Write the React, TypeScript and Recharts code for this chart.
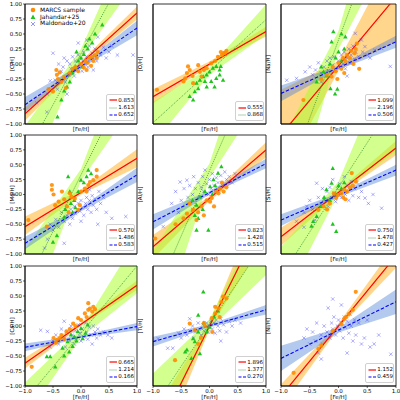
import React from 'react';
import { ComposedChart, XAxis, YAxis, Line, Area, Scatter, ReferenceArea } from 'recharts';

// band rows: [Fe/H], red lo, red hi, green lo, green hi, blue lo, blue hi
// line ends: y at [Fe/H] = -1 and +1 for red, green, blue
const C_BANDS = [
  [-1, -0.94, -0.72, -2.03, -1.03, -0.8, -0.55],
  [0, -0.02, 0.05, 0.09, 0.25, -0.07, -0.01],
  [1, 0.74, 0.96, 1.39, 2.35, 0.48, 0.72],
];
const C_LINES = [[-0.83, 0.85], [-1.53, 1.87], [-0.68, 0.6]];
const C_SLOPES = ['0.853', '1.613', '0.652'];
const C_MARCS = [[-0.58,-0.42],[-0.5,-0.46],[-0.44,-0.1],[-0.43,-0.18],[-0.41,-0.25],[-0.38,-0.14],[-0.35,-0.3],[-0.3,-0.22],[-0.27,-0.4],[-0.2,-0.15],[-0.15,-0.08],[-0.1,-0.05],[-0.05,-0.12],[0,0],[0.05,-0.06],[0.08,0.05],[0.12,0.02],[0.15,0.1],[0.18,-0.03],[0.2,0.12],[0.22,0.05],[0.25,0.15],[0.28,0.1],[0.3,0.2],[0.1,-0.1]];
const C_JAH = [[-0.42,-0.88],[-0.35,-0.6],[-0.3,-0.45],[-0.25,-0.38],[-0.2,-0.3],[-0.15,-0.15],[-0.1,-0.05],[-0.05,0.05],[0,0.1],[0.05,0.16],[0.08,0.3],[0.12,0.25],[0.15,0.42],[0.2,0.35],[0.25,0.5],[0.38,0.65],[-0.08,0.2],[0.02,-0.05]];
const C_MAL = [[-0.79,-0.65],[-0.61,-0.8],[-0.55,-0.28],[-0.5,0.18],[-0.46,-0.27],[-0.42,-0.42],[-0.4,0],[-0.35,-0.12],[-0.32,-0.05],[-0.3,0.1],[-0.28,-0.3],[-0.25,0.05],[-0.22,-0.18],[-0.2,0],[-0.18,-0.08],[-0.15,0.12],[-0.12,-0.2],[-0.1,0.05],[-0.08,-0.1],[-0.05,0.15],[-0.02,-0.02],[0,0.08],[0.02,-0.12],[0.05,0.2],[0.08,0],[0.1,0.12],[0.12,-0.05],[0.15,0.3],[0.18,0.08],[0.2,0.18],[0.22,-0.1],[0.25,0.25],[0.28,0.05],[0.3,0.45],[0.35,0.15],[0.4,0.28],[0.45,0.1],[0.5,0.2],[0.55,0.3],[0.65,0.15],[0.93,0.15],[-0.05,0.35],[0.1,0.4],[-0.25,-0.5],[-0.6,-0.5]];

const O_BANDS = [
  [-1, -0.66, -0.42, -1.33, -0.63],
  [0, -0.03, 0.04, -0.18, -0.06],
  [1, 0.46, 0.62, 0.49, 0.99],
];
const O_LINES = [[-0.545, 0.54], [-0.98, 0.74]];
const O_SLOPES = ['0.555', '0.868'];
const O_MARCS = [[-0.93,-0.43],[-0.46,-0.29],[-0.43,-0.24],[-0.4,-0.15],[-0.38,-0.04],[-0.35,-0.1],[-0.3,-0.2],[-0.29,-0.32],[-0.2,-0.02],[-0.17,-0.13],[-0.14,-0.21],[-0.1,-0.1],[-0.05,-0.07],[0.03,0.01],[0.1,0.05],[0.15,0.12],[0.2,0.2],[0.22,0.15],[0.25,0.18],[0.28,0.19],[0.3,0.22]];
const O_JAH = [[-0.35,-0.54],[-0.29,-0.6],[-0.26,-0.46],[-0.23,-0.32],[-0.2,-0.41],[-0.17,-0.27],[-0.11,-0.21],[-0.08,-0.29],[-0.05,-0.18],[-0.05,-0.38],[0,-0.13],[0.03,-0.29],[0.06,-0.07],[0.09,-0.38],[0.12,-0.04],[0.12,-0.24],[0.18,-0.1],[0.18,-0.18],[0.2,-0.04],[0.24,-0.27]];

const NA_BANDS = [
  [-1, -1.93, -0.43, -3.1, -1.3, -0.62, -0.36],
  [0, -0.11, 0.05, 0.25, 0.55, -0.09, -0.03],
  [1, 0.37, 1.87, 2.1, 3.9, 0.27, 0.47],
];
const NA_LINES = [[-1.18, 1.12], [-2.2, 3.0], [-0.49, 0.37]];
const NA_SLOPES = ['1.099', '2.196', '0.506'];
const NA_MARCS = [[-0.61,-0.6],[-0.3,-0.25],[-0.2,-0.18],[-0.12,-0.21],[-0.1,-0.05],[-0.05,-0.12],[0,0.02],[0.05,-0.08],[0.08,0.1],[0.12,0.05],[0.15,0.15],[0.2,0.1],[0.22,0.22],[0.26,0],[0.28,0.18],[0.32,0.34],[0.3,0.25],[0.36,-0.08],[-0.02,-0.25],[0.1,-0.15]];
const NA_JAH = [[-0.09,0.54],[-0.12,0.37],[0.05,0.5],[0.12,0.45],[-0.26,-0.13],[-0.38,-0.3],[-0.14,-0.41],[-0.06,-0.5],[-0.2,-0.2],[-0.05,0.1],[0,0.2],[0.05,0.05],[-0.15,0],[-0.3,-0.05],[-0.02,-0.42],[0.1,0.25]];
const NA_MAL = [[-0.9,-0.27],[-0.73,-0.24],[-0.58,-0.13],[-0.5,-0.05],[-0.45,-0.18],[-0.4,-0.1],[-0.35,0.02],[-0.3,-0.15],[-0.25,-0.05],[-0.2,0.05],[-0.18,-0.12],[-0.15,0.1],[-0.1,-0.02],[-0.08,0.12],[-0.05,-0.1],[0,0.05],[0.02,-0.05],[0.05,0.15],[0.08,0],[0.1,0.2],[0.12,-0.08],[0.15,0.1],[0.18,0.25],[0.2,0.02],[0.22,0.15],[0.25,0.3],[0.28,0.08],[0.29,0.51],[0.3,0.2],[0.35,0.12],[0.4,0.4],[0.42,0.2],[0.46,0.29],[0.5,0.15],[0.55,0.1],[0.63,0.23],[0.75,0.26],[0.9,-0.04],[-0.3,-0.3],[0.15,-0.2]];

const MG_BANDS = [
  [-1, -0.68, -0.37, -2.22, -0.92, -0.92, -0.71],
  [0, 0.0, 0.08, 0.23, 0.43, -0.28, -0.22],
  [1, 0.46, 0.76, 1.58, 2.88, 0.21, 0.45],
];
const MG_LINES = [[-0.54, 0.61], [-1.57, 2.23], [-0.82, 0.33]];
const MG_SLOPES = ['0.570', '1.486', '0.583'];
const MG_MARCS = [[-0.94,-0.43],[-0.61,-0.54],[-0.52,0.16],[-0.52,0.08],[-0.49,0],[-0.46,-0.18],[-0.4,-0.12],[-0.34,0.05],[-0.3,-0.08],[-0.25,-0.2],[-0.22,-0.3],[-0.2,0.02],[-0.17,-0.04],[-0.11,-0.07],[-0.05,-0.26],[-0.02,-0.18],[0,0.05],[0.07,0.1],[0.13,0.16],[0.16,0.21],[0.22,0.24],[0.28,0.3],[0.28,0.41],[0.1,0.05]];
const MG_JAH = [[-0.23,0.3],[0,0.24],[0.13,0.41],[0.18,0.35],[-0.2,0.05],[-0.12,-0.1],[-0.1,-0.22],[-0.18,-0.15],[-0.28,-0.25],[-0.43,-0.69],[-0.5,-0.8],[0.05,0.2],[-0.05,0.05],[-0.3,-0.38],[0.1,0.3],[-0.15,-0.3]];
const MG_MAL = [[-0.6,-0.75],[-0.55,-0.5],[-0.5,-0.6],[-0.45,-0.42],[-0.4,-0.55],[-0.35,-0.3],[-0.3,-0.82],[-0.3,-0.45],[-0.25,-0.35],[-0.2,-0.5],[-0.18,-0.25],[-0.15,-0.4],[-0.12,-0.2],[-0.1,-0.32],[-0.05,-0.15],[-0.02,-0.28],[0,-0.1],[0.02,-0.22],[0.05,-0.35],[0.08,-0.15],[0.1,-0.05],[0.12,-0.25],[0.15,-0.1],[0.18,-0.3],[0.2,-0.02],[0.22,-0.18],[0.25,-0.08],[0.28,-0.25],[0.3,-0.5],[0.32,0.05],[0.35,-0.15],[0.4,-0.05],[0.45,-0.3],[0.55,-0.4],[0.8,-0.37],[-0.65,-0.9],[0,-0.45],[0.15,0.08]];

const AL_BANDS = [
  [-1, -1.08, -0.68, -2.64, -0.94, -0.59, -0.33],
  [0, -0.1, -0.03, 0.28, 0.52, 0.0, 0.06],
  [1, 0.62, 0.88, 1.74, 3.44, 0.44, 0.6],
];
const AL_LINES = [[-0.88, 0.75], [-1.79, 2.59], [-0.46, 0.52]];
const AL_SLOPES = ['0.823', '1.428', '0.515'];
const AL_MARCS = [[-0.96,-0.74],[-0.46,-0.4],[-0.4,-0.32],[-0.35,-0.15],[-0.29,-0.26],[-0.23,-0.43],[-0.2,-0.3],[-0.14,-0.2],[-0.1,-0.35],[-0.05,-0.1],[0.01,-0.12],[0.04,-0.06],[0.08,-0.2],[0.12,0.05],[0.16,0.02],[0.19,0.1],[0.22,0.2],[0.25,0.05],[0.3,0.12],[-0.6,-0.5]];
const AL_JAH = [[0.21,0.47],[0.15,0.36],[0.07,0.25],[0.01,0.13],[-0.08,0.05],[-0.17,-0.04],[-0.23,-0.18],[-0.26,-0.35],[-0.2,-0.4],[-0.23,-0.6],[-0.02,-0.6],[-0.12,-0.25],[0.05,0],[-0.3,-0.1],[0.1,0.15]];
const AL_MAL = [[-0.82,-0.54],[-0.67,-0.15],[-0.6,0.05],[-0.52,0.21],[-0.5,-0.1],[-0.45,0.1],[-0.4,0.24],[-0.38,-0.05],[-0.35,0.15],[-0.3,0],[-0.28,0.3],[-0.25,0.1],[-0.2,0.2],[-0.18,-0.05],[-0.15,0.12],[-0.12,0.3],[-0.1,0.05],[-0.08,0.41],[-0.05,0.18],[-0.02,0],[0,0.25],[0.03,0.1],[0.05,0.35],[0.08,0.15],[0.1,0.05],[0.12,0.28],[0.15,0.2],[0.18,0.1],[0.2,0.32],[0.23,0.15],[0.27,0.38],[0.3,0.25],[0.35,0.3],[0.4,0.2],[0.45,0.35],[0.5,0.28],[-0.3,-0.25],[-0.55,-0.3]];

const SI_BANDS = [
  [-1, -0.86, -0.56, -1.88, -0.88, -0.53, -0.33],
  [0, 0.0, 0.07, 0.02, 0.22, -0.04, 0.02],
  [1, 0.66, 0.9, 0.72, 2.52, 0.32, 0.5],
];
const SI_LINES = [[-0.71, 0.78], [-1.38, 1.62], [-0.43, 0.41]];
const SI_SLOPES = ['0.750', '1.478', '0.427'];
const SI_MARCS = [[-0.35,-0.26],[-0.26,-0.2],[-0.15,-0.15],[-0.04,-0.06],[-0.01,-0.01],[0.05,0.02],[0.08,-0.05],[0.1,0.08],[0.15,0.05],[0.2,0.12],[0.23,0.36],[0.25,0.15],[0.12,-0.08],[-0.2,-0.25],[-0.08,0.02],[0.3,0.22]];
const SI_JAH = [[-0.1,0.44],[-0.12,0.19],[-0.21,0.08],[-0.3,-0.2],[-0.38,-0.37],[-0.44,-0.45],[-0.47,-0.53],[-0.1,-0.5],[-0.04,-0.62],[0.05,0.1],[-0.05,0],[0,0.15],[-0.25,-0.05],[0.1,0.2],[-0.15,-0.1]];
const SI_MAL = [[-0.73,-0.45],[-0.6,-0.3],[-0.55,-0.2],[-0.5,-0.1],[-0.45,-0.25],[-0.41,-0.43],[-0.38,0.19],[-0.35,-0.05],[-0.3,-0.15],[-0.28,0.1],[-0.25,-0.08],[-0.2,0.05],[-0.18,-0.2],[-0.15,0.12],[-0.12,-0.05],[-0.1,0.25],[-0.08,0.02],[-0.05,-0.12],[-0.02,0.1],[0,0],[0.02,0.18],[0.05,-0.05],[0.08,0.08],[0.1,0.3],[0.12,0],[0.15,0.15],[0.18,-0.1],[0.2,0.08],[0.22,0.22],[0.25,-0.02],[0.28,0.1],[0.32,0.2],[0.35,-0.05],[0.4,0.05],[0.46,-0.06],[0.52,-0.15],[0.6,0],[0.75,-0.23],[-0.6,-0.55]];

const CA_BANDS = [
  [-1, -0.71, -0.53, -1.54, -0.94, -0.42, -0.29],
  [0, 0.0, 0.06, -0.19, -0.05, -0.2, -0.16],
  [1, 0.6, 0.76, 0.55, 1.45, -0.07, 0.05],
];
const CA_LINES = [[-0.62, 0.68], [-1.24, 1.0], [-0.355, -0.01]];
const CA_SLOPES = ['0.665', '1.214', '0.166'];
const CA_MARCS = [[-0.88,-0.68],[-0.49,-0.2],[-0.45,-0.28],[-0.43,-0.23],[-0.38,-0.2],[-0.35,-0.15],[-0.3,-0.22],[-0.26,-0.09],[-0.2,-0.05],[-0.14,0.04],[-0.1,0],[-0.05,0.13],[0,0.1],[0.07,0.21],[0.1,0.15],[0.13,0.27],[0.16,0.29],[0.13,0.38],[0.2,0.24],[0.22,0.32],[0.25,0.28]];
const CA_JAH = [[-0.61,-0.51],[-0.55,-0.51],[-0.46,-0.68],[-0.33,-0.37],[-0.24,-0.26],[-0.15,-0.34],[-0.21,-0.43],[-0.12,-0.18],[-0.06,-0.09],[0,-0.04],[0.03,-0.21],[0.12,0.02],[-0.3,-0.5],[-0.08,-0.25],[0.08,-0.12],[-0.18,-0.15]];
const CA_MAL = [[-0.72,-0.07],[-0.6,-0.09],[-0.5,-0.25],[-0.45,-0.15],[-0.4,-0.3],[-0.35,-0.05],[-0.3,-0.2],[-0.28,-0.35],[-0.25,-0.1],[-0.2,-0.25],[-0.18,0],[-0.15,-0.15],[-0.12,-0.3],[-0.1,-0.08],[-0.08,-0.2],[-0.05,0.02],[-0.02,-0.12],[0,-0.25],[0.02,-0.05],[0.05,-0.18],[0.08,0.05],[0.1,-0.1],[0.12,-0.22],[0.15,-0.02],[0.18,-0.15],[0.2,-0.3],[0.22,0],[0.25,-0.1],[0.28,-0.2],[0.3,-0.05],[0.35,-0.15],[0.4,-0.1],[0.48,-0.15],[0.55,-0.2],[-0.3,0.08],[-0.55,-0.35]];

const TI_BANDS = [
  [-1, -2.32, -1.48, -1.95, -0.79, -0.34, -0.18],
  [0, -0.06, 0.06, -0.05, 0.11, -0.02, 0.03],
  [1, 1.48, 2.32, 0.85, 2.01, 0.19, 0.35],
];
const TI_LINES = [[-1.9, 1.9], [-1.37, 1.43], [-0.26, 0.27]];
const TI_SLOPES = ['1.896', '1.377', '0.270'];
const TI_MARCS = [[-0.61,-0.57],[-0.35,0.04],[-0.26,-0.07],[-0.2,-0.3],[-0.08,0],[0.04,0.13],[0.1,0.21],[0.1,0.32],[0.16,0.29],[0.21,0.4],[0.24,0.49],[0.3,0.46],[0.05,-0.1],[-0.15,-0.2],[0.18,0.15],[-0.1,0.05]];
const TI_JAH = [[-0.11,0.57],[-0.2,0.18],[0,-0.02],[-0.29,-0.21],[-0.26,-0.26],[-0.4,-0.4],[-0.43,-0.43],[-0.17,-0.46],[-0.32,-0.54],[0.08,0.15],[0.15,0.25],[-0.1,0.05],[-0.05,-0.1],[-0.2,-0.1]];
const TI_MAL = [[-0.91,-0.21],[-0.74,-0.37],[-0.65,-0.37],[-0.55,-0.12],[-0.5,-0.2],[-0.45,-0.05],[-0.4,-0.15],[-0.35,-0.08],[-0.3,0],[-0.28,-0.2],[-0.25,-0.1],[-0.2,0.05],[-0.18,-0.05],[-0.15,-0.15],[-0.12,0.02],[-0.1,-0.08],[-0.05,0.05],[-0.02,-0.1],[0,0],[0.02,0.08],[0.05,-0.05],[0.08,0.05],[0.1,-0.12],[0.12,0.1],[0.15,0],[0.18,-0.08],[0.2,0.12],[0.25,0.02],[0.3,-0.1],[0.35,0.08],[0.4,0],[0.45,0.1],[0.55,0.05],[0.2,-0.25],[-0.35,0.12]];

// Ni has no Jahandar+25 fit: red lo, red hi, -, -, blue lo, blue hi
const NI_BANDS = [
  [-1, -1.37, -0.97, null, null, -0.75, -0.33],
  [0, -0.04, 0.04, null, null, -0.11, -0.03],
  [1, 0.97, 1.37, null, null, 0.2, 0.61],
];
const NI_LINES = [[-1.17, 1.17], null, [-0.54, 0.405]];
const NI_SLOPES = ['1.152', '0.459'];
const NI_MARCS = [[-0.78,-0.78],[-0.35,-0.38],[-0.3,-0.33],[-0.1,-0.08],[0.05,0.03],[0.1,0.12],[0.13,0.15],[0.18,0.2],[0.25,0.27],[0.3,0.57]];
const NI_MAL = [[-0.6,-0.2],[-0.55,-0.05],[-0.5,-0.3],[-0.45,-0.1],[-0.4,-0.25],[-0.38,0.05],[-0.35,-0.45],[-0.3,-0.15],[-0.28,-0.3],[-0.25,0],[-0.2,-0.1],[-0.18,0.3],[-0.15,-0.2],[-0.12,0.05],[-0.1,-0.05],[-0.08,0.15],[-0.05,-0.15],[-0.02,0],[0,0.1],[0.02,-0.08],[0.05,0.05],[0.08,-0.2],[0.1,0.15],[0.12,-0.02],[0.15,0.08],[0.18,-0.12],[0.2,0.2],[0.22,0],[0.25,-0.25],[0.28,0.1],[0.3,-0.15],[0.35,0.05],[0.4,-0.3],[0.45,-0.2],[0.5,0.1],[0.55,-0.35],[0.62,-0.3],[0.7,-0.15],[0.91,-0.47],[-0.1,0.45],[0.05,0.35],[-0.3,-0.55],[0.15,-0.45]];

const Y_TICKS = [-1, -0.75, -0.5, -0.25, 0, 0.25, 0.5, 0.75, 1];
const X_TICKS = [-1, -0.5, 0, 0.5, 1];
const COL_X = [25, 153, 281];
const COL_W = [112, 113, 115];
const ROW_Y = [4, 135, 266];
const ROW_H = [120, 119, 120];
const YLAB_X = [7, 147, 277];

const PANELS = [
  { label: '[C/H]', bands: C_BANDS, lines: C_LINES, slopes: C_SLOPES, marcs: C_MARCS, jah: C_JAH, mal: C_MAL },
  { label: '[O/H]', bands: O_BANDS, lines: O_LINES, slopes: O_SLOPES, marcs: O_MARCS, jah: O_JAH, mal: null },
  { label: '[Na/H]', bands: NA_BANDS, lines: NA_LINES, slopes: NA_SLOPES, marcs: NA_MARCS, jah: NA_JAH, mal: NA_MAL },
  { label: '[Mg/H]', bands: MG_BANDS, lines: MG_LINES, slopes: MG_SLOPES, marcs: MG_MARCS, jah: MG_JAH, mal: MG_MAL },
  { label: '[Al/H]', bands: AL_BANDS, lines: AL_LINES, slopes: AL_SLOPES, marcs: AL_MARCS, jah: AL_JAH, mal: AL_MAL },
  { label: '[Si/H]', bands: SI_BANDS, lines: SI_LINES, slopes: SI_SLOPES, marcs: SI_MARCS, jah: SI_JAH, mal: SI_MAL },
  { label: '[Ca/H]', bands: CA_BANDS, lines: CA_LINES, slopes: CA_SLOPES, marcs: CA_MARCS, jah: CA_JAH, mal: CA_MAL },
  { label: '[Ti/H]', bands: TI_BANDS, lines: TI_LINES, slopes: TI_SLOPES, marcs: TI_MARCS, jah: TI_JAH, mal: TI_MAL },
  { label: '[Ni/H]', bands: NI_BANDS, lines: NI_LINES, slopes: NI_SLOPES, marcs: NI_MARCS, jah: null, mal: NI_MAL },
];

const RED = '#ff0000';
const GREEN = '#2e8b2e';
const BLUE = '#0000ff';
const FONT = '"DejaVu Sans", sans-serif';

const minus = (s: string) => s.replace('-', '\u2212');

const Dot = (p: any) => <circle cx={p.cx} cy={p.cy} r={2.1} fill="#ff8c00" fillOpacity={0.9} />;
const Tri = (p: any) => (
  <polygon
    points={`${p.cx},${p.cy - 2.4} ${p.cx - 2.2},${p.cy + 1.6} ${p.cx + 2.2},${p.cy + 1.6}`}
    fill="#1fc41f"
  />
);
const Cross = (p: any) => (
  <path
    d={`M${p.cx - 1.7},${p.cy - 1.7}L${p.cx + 1.7},${p.cy + 1.7}M${p.cx - 1.7},${p.cy + 1.7}L${p.cx + 1.7},${p.cy - 1.7}`}
    stroke="#3a3aff"
    strokeOpacity={0.45}
    strokeWidth={0.9}
    fill="none"
  />
);

const YLab = (props: any) => {
  const { viewBox, text, x } = props;
  const cy = viewBox.y + viewBox.height / 2;
  return (
    <text x={x} y={cy} transform={`rotate(-90 ${x} ${cy})`} textAnchor="middle" dominantBaseline="central"
      fontSize={5.5} fontFamily={FONT} fill="#000">{text}</text>
  );
};

const XLab = (props: any) => {
  const { viewBox, dy } = props;
  return (
    <text x={viewBox.x + viewBox.width / 2} y={viewBox.y + dy} textAnchor="middle" dominantBaseline="central"
      fontSize={5.5} fontFamily={FONT} fill="#000">[Fe/H]</text>
  );
};

const toPts = (arr: number[][] | null) => (arr ? arr.map(([x, y]) => ({ x, y })) : []);

function SlopeBox({ slopes, keys, right, bottom }: any) {
  const styles: any = {
    r: { stroke: RED, dash: undefined, w: 1.2 },
    g: { stroke: GREEN, dash: '1 1', w: 0.8 },
    b: { stroke: BLUE, dash: '3 1.5', w: 1.1 },
  };
  return (
    <div style={{
      position: 'absolute', left: right - 29, top: bottom - 3 - keys.length * 7.3 - 3, width: 27,
      border: '0.5px solid #d0d0d0', borderRadius: 2, background: 'rgba(255,255,255,0.85)',
      padding: '1.5px 0', fontFamily: FONT, fontSize: 5.5, lineHeight: '7.3px',
    }}>
      {keys.map((k: string, i: number) => (
        <div key={k} style={{ display: 'flex', alignItems: 'center', height: 7.3 }}>
          <svg width={12} height={4} style={{ marginLeft: 1.5 }}>
            <line x1={0.5} y1={2} x2={8} y2={2} stroke={styles[k].stroke} strokeWidth={styles[k].w}
              strokeDasharray={styles[k].dash} />
          </svg>
          <span style={{ marginLeft: 1 }}>{slopes[i]}</span>
        </div>
      ))}
    </div>
  );
}

function Panel({ p, idx }: any) {
  const col = idx % 3;
  const row = Math.floor(idx / 3);
  const L = COL_X[col];
  const T = ROW_Y[row];
  const W = COL_W[col];
  const H = ROW_H[row];
  const left = L - 26;
  const top = T - 4;
  const hasG = p.lines[1] != null;
  const hasB = p.lines[2] != null;
  const data = p.bands.map((b: any[]) => {
    const end = b[0] === -1 ? 0 : b[0] === 1 ? 1 : -1;
    return {
      x: b[0],
      rb: [b[1], b[2]],
      gb: hasG ? [b[3], b[4]] : null,
      bb: hasB ? [b[5], b[6]] : null,
      r: end >= 0 ? p.lines[0][end] : null,
      g: end >= 0 && hasG ? p.lines[1][end] : null,
      b: end >= 0 && hasB ? p.lines[2][end] : null,
    };
  });
  const keys = ['r'].concat(hasG ? ['g'] : []).concat(hasB ? ['b'] : []);
  const bottomRow = row === 2;
  return (
    <>
      <div style={{ position: 'absolute', left, top }}>
        <ComposedChart width={26 + W + 4} height={4 + H + 16} data={data}
          margin={{ top: 4, right: 4, bottom: 0, left: 0 }}>
          <XAxis type="number" dataKey="x" domain={[-1, 1]} allowDataOverflow ticks={X_TICKS} interval={0}
            height={16} tickSize={2} tickMargin={1}
            tick={bottomRow ? { fontSize: 5.5, fill: '#000', fontFamily: FONT } : false}
            tickFormatter={(v: number) => minus(v.toFixed(1))}
            axisLine={{ stroke: '#000', strokeWidth: 0.8 }} tickLine={{ stroke: '#000', strokeWidth: 0.6 }}
            label={<XLab dy={bottomRow ? 10.5 : 4.5} />} />
          <YAxis type="number" domain={[-1, 1]} allowDataOverflow ticks={Y_TICKS} interval={0}
            width={26} tickSize={2} tickMargin={1}
            tick={col === 0 ? { fontSize: 5.5, fill: '#000', fontFamily: FONT } : false}
            tickFormatter={(v: number) => minus(v.toFixed(2))}
            axisLine={{ stroke: '#000', strokeWidth: 0.8 }} tickLine={{ stroke: '#000', strokeWidth: 0.6 }}
            label={<YLab text={p.label} x={YLAB_X[col] - left} />} />
          <Area dataKey="rb" type="linear" stroke="none" fill="#ffa500" fillOpacity={0.45} isAnimationActive={false} />
          {hasG && <Area dataKey="gb" type="linear" stroke="none" fill="#adff2f" fillOpacity={0.55} isAnimationActive={false} />}
          {hasB && <Area dataKey="bb" type="linear" stroke="none" fill="#4a7fd6" fillOpacity={0.42} isAnimationActive={false} />}
          {p.mal && <Scatter data={toPts(p.mal)} dataKey="y" shape={Cross} isAnimationActive={false} />}
          {p.jah && <Scatter data={toPts(p.jah)} dataKey="y" shape={Tri} isAnimationActive={false} />}
          <Scatter data={toPts(p.marcs)} dataKey="y" shape={Dot} isAnimationActive={false} />
          <Line dataKey="r" type="linear" stroke={RED} strokeWidth={1.2} dot={false} connectNulls isAnimationActive={false} />
          {hasG && <Line dataKey="g" type="linear" stroke={GREEN} strokeWidth={0.8} strokeDasharray="1 1.2" dot={false} connectNulls isAnimationActive={false} />}
          {hasB && <Line dataKey="b" type="linear" stroke={BLUE} strokeWidth={1.1} strokeDasharray="3.5 1.8" dot={false} connectNulls isAnimationActive={false} />}
          <ReferenceArea x1={-1} x2={1} y1={-1} y2={1} fill="none" fillOpacity={0} stroke="#000" strokeWidth={0.8} />
        </ComposedChart>
      </div>
      <SlopeBox slopes={p.slopes} keys={keys} right={L + W - 2} bottom={T + H - 2} />
    </>
  );
}

export default function App() {
  return (
    <div style={{ position: 'absolute', left: 0, top: 0, width: 400, height: 400, background: '#fff', overflow: 'hidden', fontFamily: FONT }}>
      {PANELS.map((p, i) => <Panel key={p.label} p={p} idx={i} />)}
      <div style={{ position: 'absolute', left: 29, top: 7, fontSize: 6, lineHeight: '6.7px', fontFamily: FONT }}>
        <div style={{ display: 'flex', alignItems: 'center' }}>
          <svg width={8} height={6}><circle cx={4} cy={3} r={2.3} fill="#ff8c00" /></svg>
          <span style={{ marginLeft: 3 }}>MARCS sample</span>
        </div>
        <div style={{ display: 'flex', alignItems: 'center' }}>
          <svg width={8} height={6}><polygon points="4,0.6 1.6,5 6.4,5" fill="#1fc41f" /></svg>
          <span style={{ marginLeft: 3 }}>Jahandar+25</span>
        </div>
        <div style={{ display: 'flex', alignItems: 'center' }}>
          <svg width={8} height={6}><path d="M2,1L6,5M2,5L6,1" stroke="#3a3aff" strokeOpacity={0.6} strokeWidth={0.9} /></svg>
          <span style={{ marginLeft: 3 }}>Maldonado+20</span>
        </div>
      </div>
    </div>
  );
}
